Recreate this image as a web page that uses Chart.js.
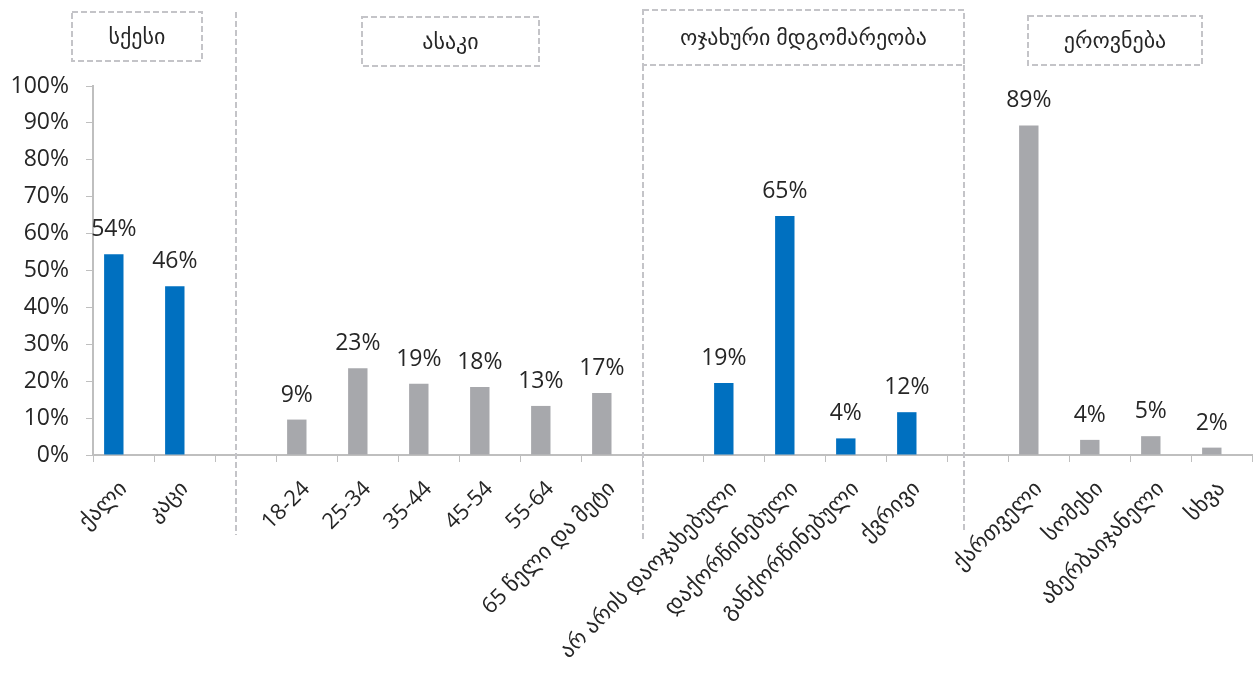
<!DOCTYPE html>
<html>
<head>
<meta charset="utf-8">
<script src="https://cdn.jsdelivr.net/npm/chart.js@4/dist/chart.umd.min.js"></script>
<style>
    html, body { margin: 0; padding: 0; background: #fff; }
    #wrap { width: 1255px; height: 677px; position: relative; }
</style>
</head>
<body>
<div id="wrap"><canvas id="chart"></canvas></div>
<script>
// categories (empty strings are the gaps between groups)
const categories = [
    "ქალი", "კაცი", "",
    "18-24", "25-34", "35-44", "45-54", "55-64", "65 წელი და მეტი", "",
    "არ არის დაოჯახებული", "დაქორწინებული", "განქორწინებული", "ქვრივი", "",
    "ქართველი", "სომეხი", "აზერბაიჯანელი", "სხვა"
];
// bar values in percent
const values = [
    54.4, 45.7, null,
    9.6, 23.5, 19.3, 18.4, 13.3, 16.8, null,
    19.5, 64.8, 4.5, 11.6, null,
    89.3, 4.1, 5.1, 2.0
];
// labels printed above the bars
const valueLabels = [
    "54%", "46%", "",
    "9%", "23%", "19%", "18%", "13%", "17%", "",
    "19%", "65%", "4%", "12%", "",
    "89%", "4%", "5%", "2%"
];
// which colour each bar uses
const barGroup = [
    "b", "b", "",
    "g", "g", "g", "g", "g", "g", "",
    "b", "b", "b", "b", "",
    "g", "g", "g", "g"
];
const emptySeries = categories.map(() => null);
const yTicks = [0, 10, 20, 30, 40, 50, 60, 70, 80, 90, 100];
// group headings: text, left/right edge in category units, box top/bottom
const groupTitles = ["სქესი", "ასაკი", "ოჯახური მდგომარეობა", "ეროვნება"];
const groupBoxes = [
    { from: -0.84, to: 1.29, top: 12, bottom: 61 },
    { from: 3.91, to: 6.81, top: 17, bottom: 66 },
    { from: 8.52, to: 13.78, top: 10, bottom: 65 },
    { from: 14.83, to: 17.68, top: 16, bottom: 65 }
];
// dashed separators: position in category units, top/bottom
const separators = [
    { at: 1.84, top: 12, bottom: 535 },
    { at: 8.52, top: 65, bottom: 540 },
    { at: 13.78, top: 65, bottom: 532 }
];

const BLUE = "#0070C0", GREY = "#A7A8AC", TEXT = "#262626", LINE = "#BFBFBF";
const FONT = "'Open Sans', 'DejaVu Sans', sans-serif";

const decorations = {
    id: "decorations",
    afterDraw(chart) {
        const ctx = chart.ctx, x = chart.scales.x;
        ctx.save();
        ctx.strokeStyle = "#C4C4C8";
        ctx.lineWidth = 2;
        ctx.setLineDash([6, 3]);
        separators.forEach(s => {
            let px = Math.round(x.getPixelForValue(s.at));
            ctx.beginPath();
            ctx.moveTo(px, s.top);
            ctx.lineTo(px, s.bottom);
            ctx.stroke();
        });
        ctx.font = "22px " + FONT;
        ctx.fillStyle = TEXT;
        ctx.textAlign = "center";
        ctx.textBaseline = "middle";
        groupBoxes.forEach((b, i) => {
            let l = Math.round(x.getPixelForValue(b.from)), r = Math.round(x.getPixelForValue(b.to));
            ctx.strokeRect(l, b.top, r - l, b.bottom - b.top);
            ctx.fillText(groupTitles[i], (l + r) / 2, (b.top + b.bottom) / 2 + 1);
        });
        ctx.restore();
    },
    afterDatasetsDraw(chart) {
        const ctx = chart.ctx, meta = chart.getDatasetMeta(0);
        ctx.save();
        ctx.font = "23px " + FONT;
        ctx.fillStyle = TEXT;
        ctx.textAlign = "center";
        ctx.textBaseline = "alphabetic";
        meta.data.forEach((bar, i) => {
            if (values[i] == null) return;
            ctx.fillText(valueLabels[i], bar.x, bar.y - 18);
        });
        ctx.restore();
    }
};

new Chart(document.getElementById("chart"), {
    type: "bar",
    data: {
        labels: categories,
        datasets: [{
            data: values,
            backgroundColor: barGroup.map(g => g == "b" ? BLUE : GREY),
            categoryPercentage: 0.636,
            barPercentage: 1
        }, {
            data: emptySeries, // second (empty) series, keeps bars left of centre as in the original
            categoryPercentage: 0.636,
            barPercentage: 1
        }]
    },
    options: {
        responsive: true,
        maintainAspectRatio: false,
        animation: false,
        layout: { padding: { top: 86, right: 3, left: 0, bottom: 0 } },
        plugins: { legend: { display: false }, tooltip: { enabled: false } },
        scales: {
            x: {
                grid: { drawOnChartArea: false, color: LINE, tickLength: 7, offset: true },
                border: { color: LINE, width: 2 },
                ticks: {
                    autoSkip: false,
                    minRotation: 45,
                    maxRotation: 45,
                    color: TEXT,
                    font: { size: 22, family: FONT },
                    padding: 14
                },
                afterFit: s => { s.height = 222; }
            },
            y: {
                min: 0,
                max: 100,
                afterBuildTicks: s => { s.ticks = yTicks.map(v => ({ value: v })); },
                grid: { drawOnChartArea: false, color: LINE, tickLength: 7 },
                border: { color: LINE, width: 2 },
                ticks: {
                    color: TEXT,
                    font: { size: 23, family: FONT },
                    padding: 17,
                    callback: v => v + "%"
                },
                afterFit: s => { s.width = 93; }
            }
        }
    },
    plugins: [decorations]
});
</script>
</body>
</html>
